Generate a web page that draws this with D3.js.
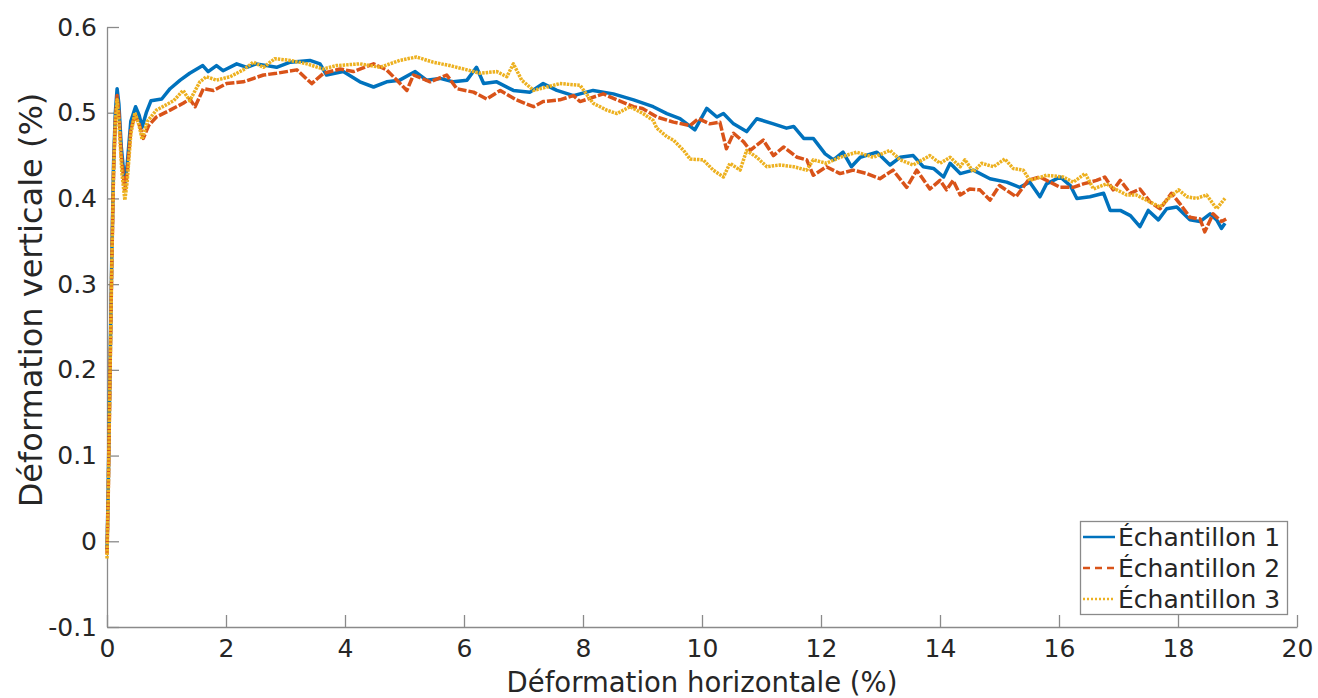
<!DOCTYPE html>
<html>
<head>
<meta charset="utf-8">
<script src="https://cdn.jsdelivr.net/npm/d3@7"></script>
<style>
  html, body { margin: 0; padding: 0; background: #fff; }
  svg { display: block; }
  text { font-family: "DejaVu Sans", sans-serif; fill: #262626; }
</style>
</head>
<body>
<svg id="chart" width="1318" height="698"></svg>
<script>
// Deformation test results: vertical vs horizontal strain, three samples
const seriesNames = ["Échantillon 1", "Échantillon 2", "Échantillon 3"];
const xTicks = [0, 2, 4, 6, 8, 10, 12, 14, 16, 18, 20];
const yTicks = [-0.1, 0, 0.1, 0.2, 0.3, 0.4, 0.5, 0.6];
const yTickLabels = ["-0.1", "0", "0.1", "0.2", "0.3", "0.4", "0.5", "0.6"];
const xTitle = "Déformation horizontale (%)";
const yTitle = "Déformation verticale (%)";

const ech1X = [0,0.02,0.05,0.08,0.11,0.14,0.17,0.2,0.24,0.3,0.34,0.4,0.48,0.54,0.59,0.66,0.74,0.92,1.06,1.23,1.39,1.61,1.7,1.84,1.95,2.18,2.35,2.51,2.85,3.08,3.41,3.58,3.69,3.97,4.25,4.48,4.7,4.92,5.18,5.37,5.6,5.82,6.05,6.21,6.33,6.55,6.83,7.11,7.33,7.56,7.84,8.17,8.51,8.85,9.18,9.41,9.63,9.88,10.08,10.25,10.36,10.53,10.75,10.92,11.2,11.42,11.54,11.71,11.87,12.07,12.21,12.37,12.51,12.66,12.94,13.16,13.33,13.55,13.72,13.89,14.06,14.17,14.34,14.56,14.84,15.12,15.34,15.51,15.68,15.79,16.02,16.19,16.3,16.52,16.75,16.86,17.03,17.2,17.36,17.5,17.67,17.81,17.98,18.2,18.37,18.54,18.65,18.73,18.79];
const ech1Y = [-0.01,0.06,0.2,0.33,0.44,0.5,0.528,0.51,0.46,0.417,0.44,0.49,0.507,0.497,0.483,0.5,0.514,0.516,0.528,0.538,0.546,0.555,0.548,0.555,0.549,0.557,0.553,0.557,0.553,0.559,0.561,0.557,0.544,0.548,0.536,0.53,0.536,0.538,0.548,0.538,0.54,0.536,0.538,0.553,0.534,0.536,0.526,0.524,0.534,0.526,0.52,0.526,0.522,0.515,0.507,0.499,0.493,0.48,0.505,0.495,0.499,0.487,0.478,0.493,0.487,0.482,0.484,0.47,0.47,0.452,0.445,0.454,0.437,0.448,0.454,0.439,0.448,0.45,0.437,0.435,0.425,0.441,0.429,0.433,0.423,0.419,0.413,0.419,0.402,0.417,0.425,0.415,0.4,0.402,0.406,0.386,0.386,0.38,0.367,0.386,0.375,0.388,0.39,0.375,0.373,0.382,0.375,0.365,0.371];

const ech2X = [0,0.02,0.05,0.08,0.11,0.14,0.17,0.2,0.24,0.3,0.34,0.4,0.47,0.54,0.61,0.7,0.83,1.06,1.28,1.39,1.48,1.62,1.79,2.01,2.29,2.63,2.85,3.19,3.44,3.64,3.92,4.14,4.48,4.7,5.04,5.15,5.43,5.71,5.88,6.16,6.38,6.61,6.88,7.17,7.33,7.61,7.84,7.95,8.34,8.57,8.85,9.0,9.24,9.52,9.8,9.94,10.13,10.3,10.41,10.53,10.7,10.81,11.03,11.2,11.37,11.6,11.76,11.87,12.09,12.32,12.54,12.77,12.99,13.21,13.44,13.61,13.83,14.0,14.11,14.22,14.34,14.5,14.67,14.84,15.0,15.28,15.48,15.68,16.02,16.24,16.41,16.63,16.77,16.91,17.03,17.2,17.36,17.53,17.7,17.89,18.03,18.2,18.37,18.45,18.59,18.73,18.81];
const ech2Y = [-0.015,0.05,0.19,0.32,0.43,0.49,0.52,0.5,0.45,0.41,0.43,0.48,0.497,0.487,0.47,0.485,0.495,0.503,0.511,0.516,0.507,0.528,0.526,0.534,0.536,0.544,0.546,0.55,0.534,0.546,0.551,0.548,0.557,0.55,0.526,0.544,0.536,0.544,0.528,0.524,0.516,0.526,0.515,0.507,0.513,0.515,0.52,0.513,0.522,0.515,0.507,0.505,0.495,0.489,0.485,0.493,0.487,0.489,0.458,0.476,0.466,0.456,0.468,0.45,0.46,0.448,0.445,0.427,0.437,0.429,0.433,0.429,0.423,0.433,0.413,0.433,0.411,0.421,0.41,0.421,0.404,0.411,0.41,0.398,0.415,0.402,0.421,0.425,0.413,0.413,0.417,0.421,0.425,0.41,0.421,0.406,0.411,0.396,0.388,0.406,0.394,0.378,0.376,0.361,0.382,0.373,0.376];

const ech3X = [0,0.02,0.05,0.08,0.11,0.14,0.17,0.2,0.25,0.3,0.34,0.4,0.47,0.54,0.59,0.68,0.83,1.12,1.28,1.39,1.56,1.67,1.84,2.07,2.29,2.46,2.63,2.82,3.08,3.36,3.63,3.86,4.25,4.59,4.92,5.2,5.48,5.76,6.05,6.27,6.55,6.72,6.83,6.97,7.17,7.39,7.61,7.95,8.17,8.4,8.57,8.79,9.01,9.18,9.24,9.41,9.52,9.69,9.8,10.02,10.19,10.36,10.47,10.64,10.75,10.92,11.09,11.31,11.54,11.76,11.87,12.09,12.32,12.6,12.88,13.16,13.33,13.55,13.83,14.0,14.17,14.34,14.42,14.56,14.7,14.9,15.09,15.23,15.4,15.51,15.79,16.07,16.24,16.44,16.58,16.8,16.97,17.14,17.3,17.47,17.7,17.87,18.01,18.15,18.31,18.48,18.65,18.79];
const ech3Y = [-0.02,0.05,0.19,0.32,0.43,0.49,0.515,0.49,0.43,0.398,0.42,0.475,0.5,0.485,0.469,0.49,0.503,0.514,0.526,0.514,0.536,0.542,0.538,0.542,0.55,0.559,0.553,0.563,0.561,0.557,0.551,0.555,0.557,0.553,0.561,0.565,0.559,0.555,0.55,0.546,0.548,0.542,0.557,0.538,0.526,0.53,0.534,0.532,0.511,0.503,0.499,0.507,0.499,0.491,0.482,0.472,0.468,0.456,0.446,0.445,0.433,0.425,0.441,0.433,0.456,0.448,0.437,0.439,0.437,0.433,0.445,0.441,0.448,0.454,0.448,0.456,0.445,0.439,0.45,0.441,0.448,0.437,0.445,0.431,0.441,0.437,0.446,0.435,0.433,0.421,0.427,0.425,0.419,0.429,0.411,0.417,0.41,0.404,0.404,0.398,0.39,0.402,0.41,0.402,0.4,0.404,0.388,0.4];

const colors = ["#0072BD", "#D95319", "#EDB120"];
const dashes = [null, "9,2", "2.5,1"];

const margin = { left: 107, right: 21, top: 27, bottom: 71 };
const W = 1318, H = 698;
const svg = d3.select("#chart");

const x = d3.scaleLinear().domain([0, 20]).range([margin.left, W - margin.right]);
const y = d3.scaleLinear().domain([-0.1, 0.6]).range([H - margin.bottom, margin.top]);

const axisColor = "#8a8a8a";

// X axis with inward ticks
const gx = svg.append("g")
  .attr("transform", `translate(0,${y(-0.1)})`)
  .call(d3.axisBottom(x).tickValues(xTicks).tickSizeInner(-12).tickSizeOuter(0).tickPadding(12).tickFormat(d3.format("d")));
gx.select(".domain").attr("stroke", axisColor).attr("stroke-width", 1.3);
gx.selectAll(".tick line").attr("stroke", axisColor).attr("stroke-width", 1.3);
gx.selectAll(".tick text").attr("font-size", 25).attr("font-family", "DejaVu Sans").attr("fill", "#262626");

// Y axis with inward ticks
const gy = svg.append("g")
  .attr("transform", `translate(${x(0)},0)`)
  .call(d3.axisLeft(y).tickValues(yTicks).tickSizeInner(-12).tickSizeOuter(0).tickPadding(10)
    .tickFormat((d, i) => yTickLabels[i]));
gy.select(".domain").attr("stroke", axisColor).attr("stroke-width", 1.3);
gy.selectAll(".tick line").attr("stroke", axisColor).attr("stroke-width", 1.3);
gy.selectAll(".tick text").attr("font-size", 25).attr("font-family", "DejaVu Sans").attr("fill", "#262626");

// Axis titles
svg.append("text")
  .attr("x", (x(0) + x(20)) / 2).attr("y", 692)
  .attr("text-anchor", "middle").attr("font-size", 27.5)
  .text(xTitle);
svg.append("text")
  .attr("transform", `translate(42,300) rotate(-90)`)
  .attr("text-anchor", "middle").attr("font-size", 32)
  .text(yTitle);

// Curves
const seriesData = [
  ech1X.map((v, i) => [v, ech1Y[i]]),
  ech2X.map((v, i) => [v, ech2Y[i]]),
  ech3X.map((v, i) => [v, ech3Y[i]])
];
const line = d3.line().x(d => x(d[0])).y(d => y(d[1]));
const plot = svg.append("g");
seriesData.forEach((data, i) => {
  plot.append("path")
    .datum(data)
    .attr("fill", "none")
    .attr("stroke", colors[i])
    .attr("stroke-width", 3.5)
    .attr("stroke-linejoin", "round")
    .attr("stroke-dasharray", dashes[i])
    .attr("d", line);
});

// Legend
const lg = svg.append("g");
lg.append("rect")
  .attr("x", 1080.5).attr("y", 521.5).attr("width", 207).attr("height", 93)
  .attr("fill", "#fff").attr("stroke", axisColor).attr("stroke-width", 1.3);
const legendDash = [null, "7,5", "2,2"];
seriesNames.forEach((name, i) => {
  const yy = 537 + i * 31;
  lg.append("line")
    .attr("x1", 1083).attr("x2", 1115).attr("y1", yy).attr("y2", yy)
    .attr("stroke", colors[i]).attr("stroke-width", 2.5)
    .attr("stroke-dasharray", legendDash[i]);
  lg.append("text")
    .attr("x", 1118).attr("y", yy + 9)
    .attr("font-size", 25).attr("fill", "#000")
    .text(name);
});
</script>
</body>
</html>
